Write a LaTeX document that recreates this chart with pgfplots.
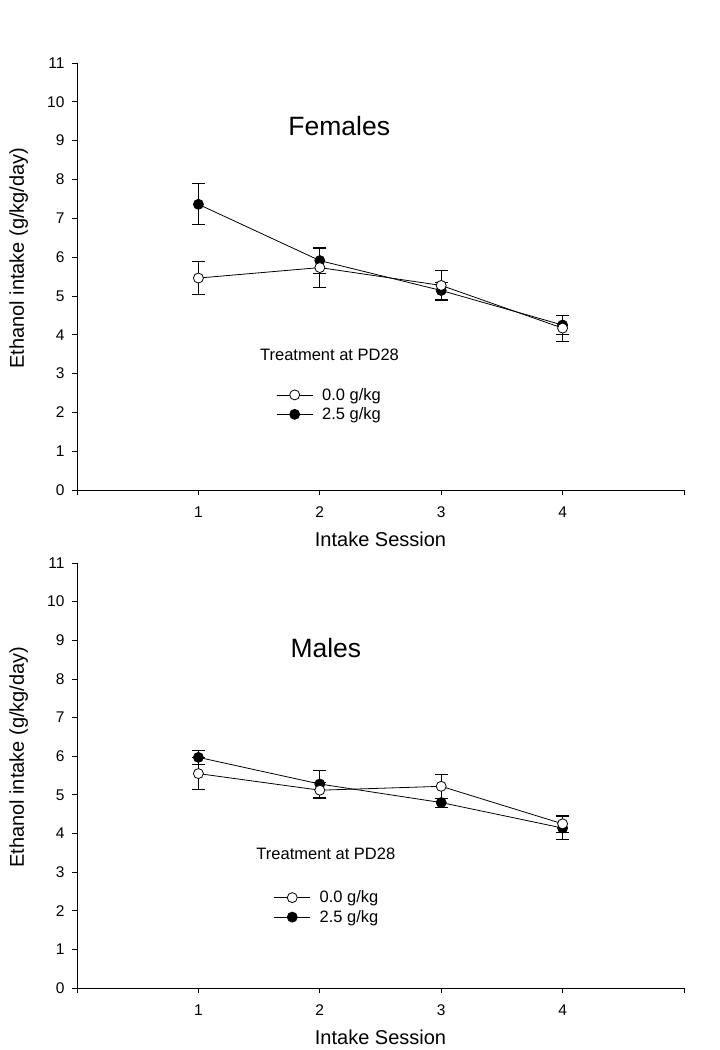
\documentclass[border=0pt]{standalone}
\usepackage{fontspec}
\setmainfont{Liberation Sans}
\usepackage{pgfplots}
\pgfplotsset{compat=1.18}
\pgfplotsset{
  panel/.style={
    scale only axis,
    width=607pt,
    xmin=0, xmax=5, ymin=0, ymax=11,
    axis x line*=bottom, axis y line*=left,
    axis line style={-, line width=0.8pt},
    tick align=outside,
    major tick length=5pt,
    tick style={line width=0.8pt, black},
    xtick={0,1,2,3,4,5},
    xticklabels={,1,2,3,4,},
    ytick={0,1,...,11},
    /pgf/number format/assume math mode=true,
    tick label style={font=\fontsize{15.5}{19}\selectfont},
    xticklabel style={yshift=-8pt},
    yticklabel style={xshift=-4pt},
    label style={font=\fontsize{20}{24}\selectfont},
    xlabel={Intake Session},
    ylabel={Ethanol intake (g/kg/day)},
    x label style={at={(axis description cs:0.5,-0.115)}, anchor=center},
    y label style={at={(axis description cs:-0.096,0.543)}, anchor=center, rotate=0},
    clip=false,
    legend style={draw=none, fill=none, inner sep=0pt, font=\fontsize{16.5}{20}\selectfont,
      row sep=2pt, column sep=7pt, cells={anchor=west}},
    legend image code/.code={\draw[mark repeat=2,mark phase=2] plot coordinates {(0pt,0pt)(18pt,0pt)(36pt,0pt)};},
  },
  ser/.style={black, line width=0.8pt, mark=*, mark size=5pt,
    error bars/y dir=both, error bars/y explicit,
    error bars/error bar style={line width=0.8pt, black},
    error bars/error mark options={rotate=90, mark size=6.5pt, line width=0.8pt, black}},
  openser/.style={ser, mark options={fill=white, draw=black, line width=0.8pt}},
  fillser/.style={ser, mark options={fill=black, draw=black}},
}
\begin{document}
\begin{tikzpicture}
\path[use as bounding box] (0pt,0pt) rectangle (720pt,-1050pt);
% ---------------- Females ----------------
\begin{axis}[panel, height=427pt, at={(77pt,-490pt)}, anchor=south west,
  legend style={at={(axis cs:1.64,2.68)}, anchor=north west}]
\addplot[fillser, forget plot] coordinates {
 (1,7.36) +- (0,0.53)
 (2,5.91) +- (0,0.34)
 (3,5.14) +- (0,0.22)
 (4,4.25) +- (0,0.24)
};
\addplot[openser, forget plot] coordinates {
 (1,5.46) +- (0,0.43)
 (2,5.73) +- (0,0.50)
 (3,5.27) +- (0,0.39)
 (4,4.17) +- (0,0.33)
};
\addlegendimage{black, line width=0.8pt, mark=*, mark size=5pt, mark options={fill=white, draw=black}}
\addlegendentry{0.0 g/kg}
\addlegendimage{black, line width=0.8pt, mark=*, mark size=5pt, mark options={fill=black}}
\addlegendentry{2.5 g/kg}
\node[font=\fontsize{26.5}{30}\selectfont] at (axis cs:2.16,9.38) {Females};
\node[font=\fontsize{16.5}{20}\selectfont] at (axis cs:2.08,3.48) {Treatment at PD28};
\end{axis}
% ---------------- Males ----------------
\begin{axis}[panel, height=425pt, at={(77pt,-988pt)}, anchor=south west,
  legend style={at={(axis cs:1.62,2.57)}, anchor=north west}]
\addplot[fillser, forget plot] coordinates {
 (1,5.97) +- (0,0.18)
 (2,5.28) +- (0,0.34)
 (3,4.80) +- (0,0.12)
 (4,4.14) +- (0,0.29)
};
\addplot[openser, forget plot] coordinates {
 (1,5.55) +- (0,0.41)
 (2,5.12) +- (0,0.21)
 (3,5.22) +- (0,0.32)
 (4,4.25) +- (0,0.21)
};
\addlegendimage{black, line width=0.8pt, mark=*, mark size=5pt, mark options={fill=white, draw=black}}
\addlegendentry{0.0 g/kg}
\addlegendimage{black, line width=0.8pt, mark=*, mark size=5pt, mark options={fill=black}}
\addlegendentry{2.5 g/kg}
\node[font=\fontsize{26.5}{30}\selectfont] at (axis cs:2.05,8.81) {Males};
\node[font=\fontsize{16.5}{20}\selectfont] at (axis cs:2.05,3.47) {Treatment at PD28};
\end{axis}
\end{tikzpicture}
\end{document}
